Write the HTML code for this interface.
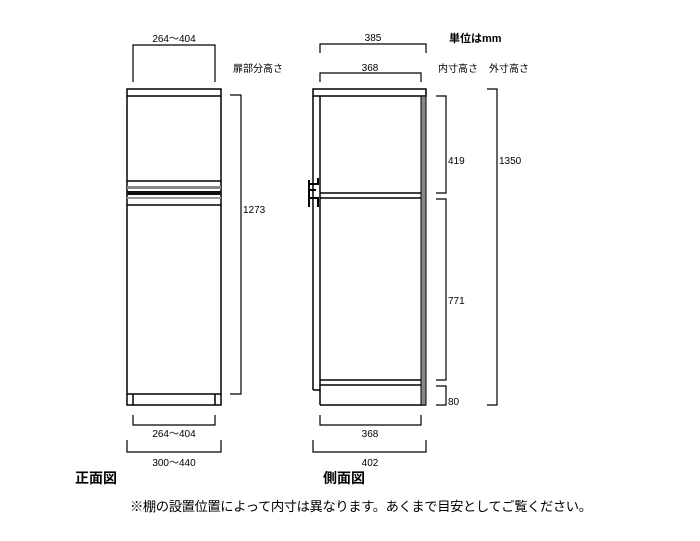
<!DOCTYPE html>
<html><head><meta charset="utf-8"><style>
html,body{margin:0;padding:0;background:#fff}
svg{display:block}
text{font-family:"Liberation Sans","Noto Sans CJK JP",sans-serif;fill:#000}
</style></head><body>
<svg width="700" height="541" viewBox="0 0 700 541" xmlns="http://www.w3.org/2000/svg">
<g fill="none" stroke="#000" stroke-width="1.5">
<!-- front view -->
<rect x="127" y="89" width="94" height="316"/>
<line x1="127" y1="96" x2="221" y2="96"/>
<line x1="127" y1="394" x2="221" y2="394"/>
<line x1="133" y1="394" x2="133" y2="405"/>
<line x1="215" y1="394" x2="215" y2="405"/>
<line x1="127" y1="181" x2="221" y2="181"/>
<line x1="127" y1="205" x2="221" y2="205"/>
</g>
<rect x="127" y="186" width="94" height="3" fill="#888"/>
<rect x="127" y="191" width="94" height="4" fill="#111"/>
<rect x="127" y="197" width="94" height="2" fill="#999"/>
<g fill="none" stroke="#000" stroke-width="1.2">
<polyline points="133,82 133,45 215,45 215,82"/>
<polyline points="230,95 241,95 241,394 230,394"/>
<polyline points="133,415 133,425 215,425 215,415"/>
<polyline points="127,440 127,452 221,452 221,440"/>
</g>
<!-- side view -->
<g fill="none" stroke="#000" stroke-width="1.5">
<rect x="313" y="89" width="113" height="7"/>
<line x1="313" y1="96" x2="313" y2="390"/>
<line x1="313" y1="390" x2="320" y2="390"/>
<line x1="320" y1="96" x2="320" y2="405"/>
<line x1="320" y1="405" x2="426" y2="405"/>
<line x1="320" y1="193" x2="421" y2="193"/>
<line x1="320" y1="198" x2="421" y2="198"/>
<line x1="320" y1="380" x2="421" y2="380"/>
<line x1="320" y1="385" x2="421" y2="385"/>
</g>
<rect x="421" y="96" width="5" height="309" fill="#888" stroke="#000" stroke-width="1"/>
<g fill="none" stroke="#000" stroke-width="2">
<line x1="309" y1="180" x2="309" y2="207"/>
<polyline points="309,184 318,184 318,178"/>
<polyline points="309,198 318,198 318,207"/>
<line x1="309" y1="190" x2="316" y2="190"/>
</g>
<g fill="none" stroke="#000" stroke-width="1.2">
<polyline points="320,53 320,44 426,44 426,53"/>
<polyline points="320,82 320,73 421,73 421,82"/>
<polyline points="436,96 446,96 446,193 436,193"/>
<polyline points="436,199 446,199 446,380 436,380"/>
<polyline points="436,386 446,386 446,405 436,405"/>
<polyline points="487,89 497,89 497,405 487,405"/>
<polyline points="320,415 320,425 421,425 421,415"/>
<polyline points="313,440 313,452 426,452 426,440"/>
</g>
<g font-size="10">
<text x="174" y="42" text-anchor="middle">264～404</text>
<text x="233" y="72">扉部分高さ</text>
<text x="243" y="213">1273</text>
<text x="174" y="437" text-anchor="middle">264～404</text>
<text x="174" y="466" text-anchor="middle">300～440</text>
<text x="373" y="41" text-anchor="middle">385</text>
<text x="370" y="71" text-anchor="middle">368</text>
<text x="438" y="72">内寸高さ</text>
<text x="489" y="72">外寸高さ</text>
<text x="448" y="164">419</text>
<text x="448" y="304">771</text>
<text x="448" y="405">80</text>
<text x="499" y="164">1350</text>
<text x="370" y="437" text-anchor="middle">368</text>
<text x="370" y="466" text-anchor="middle">402</text>
</g>
<text x="449" y="42" font-size="11" font-weight="bold">単位はmm</text>
<text x="75" y="483" font-size="14" font-weight="bold">正面図</text>
<text x="323" y="483" font-size="14" font-weight="bold">側面図</text>
<text x="130" y="511" font-size="13.3" textLength="462">※棚の設置位置によって内寸は異なります。あくまで目安としてご覧ください。</text>
</svg>
</body></html>
